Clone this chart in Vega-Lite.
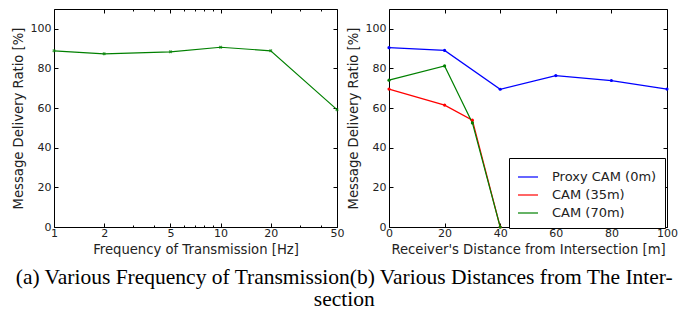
{
  "$schema": "https://vega.github.io/schema/vega-lite/v6.json",
  "background": "white",
  "padding": {"left": 10, "top": 8, "right": 6, "bottom": 0},
  "title": {
    "text": ["(a) Various Frequency of Transmission(b) Various Distances from The Inter-", "section"],
    "orient": "bottom",
    "anchor": "middle",
    "font": "Liberation Serif",
    "fontSize": 21.5,
    "fontWeight": "normal",
    "color": "black",
    "offset": 11,
    "lineHeight": 22
  },
  "datasets": {
    "freq": [
      {"f": 1, "ratio": 88.9},
      {"f": 2, "ratio": 87.4},
      {"f": 5, "ratio": 88.4},
      {"f": 10, "ratio": 90.7},
      {"f": 20, "ratio": 88.9},
      {"f": 50, "ratio": 59.2}
    ],
    "dist": [
      {"d": 0, "ratio": 90.5, "series": "Proxy CAM (0m)"},
      {"d": 20, "ratio": 89.1, "series": "Proxy CAM (0m)"},
      {"d": 40, "ratio": 69.5, "series": "Proxy CAM (0m)"},
      {"d": 60, "ratio": 76.4, "series": "Proxy CAM (0m)"},
      {"d": 80, "ratio": 73.9, "series": "Proxy CAM (0m)"},
      {"d": 100, "ratio": 69.6, "series": "Proxy CAM (0m)"},
      {"d": 0, "ratio": 69.6, "series": "CAM (35m)"},
      {"d": 20, "ratio": 61.5, "series": "CAM (35m)"},
      {"d": 30, "ratio": 53.9, "series": "CAM (35m)"},
      {"d": 40, "ratio": 0, "series": "CAM (35m)"},
      {"d": 0, "ratio": 74.1, "series": "CAM (70m)"},
      {"d": 20, "ratio": 81.3, "series": "CAM (70m)"},
      {"d": 30, "ratio": 52.5, "series": "CAM (70m)"},
      {"d": 40, "ratio": 0, "series": "CAM (70m)"}
    ]
  },
  "config": {
    "font": "DejaVu Sans",
    "view": {"stroke": "black", "strokeWidth": 1},
    "axis": {
      "grid": false,
      "domain": false,
      "tickColor": "black",
      "tickSize": -4,
      "labelPadding": 6,
      "labelFont": "DejaVu Sans",
      "labelFontSize": 11,
      "labelColor": "#222",
      "titleFont": "DejaVu Sans",
      "titleFontSize": 13.2,
      "titleFontWeight": "normal",
      "titleColor": "#222"
    },
    "axisX": {"labelPadding": 4, "titlePadding": 5},
    "axisY": {"labelPadding": 7, "titlePadding": 5},
    "legend": {
      "strokeColor": "black",
      "fillColor": "white",
      "padding": 8,
      "labelFont": "DejaVu Sans",
      "labelFontSize": 13,
      "labelColor": "#222",
      "symbolType": "stroke",
      "symbolSize": 400,
      "symbolStrokeWidth": 1.2,
      "rowPadding": -1,
      "labelOffset": 13
    }
  },
  "spacing": 0,
  "hconcat": [
    {
      "width": 283,
      "height": 218,
      "data": {"name": "freq"},
      "layer": [
        {
          "mark": {"type": "line", "color": "#008000", "strokeWidth": 1.2},
          "encoding": {
            "x": {"field": "f", "type": "quantitative", "scale": {"type": "log", "domain": [1, 50], "nice": false},
                  "axis": {"values": [1, 2, 5, 10, 20, 50], "title": "Frequency of Transmission [Hz]", "labelFlush": false, "format": "d"}},
            "y": {"field": "ratio", "type": "quantitative", "scale": {"domain": [0, 110], "nice": false},
                  "axis": {"values": [0, 20, 40, 60, 80, 100], "title": "Message Delivery Ratio [%]"}}
          }
        },
        {
          "mark": {"type": "point", "shape": "cross", "color": "#008000", "size": 12, "filled": true, "angle": 45},
          "encoding": {
            "x": {"field": "f", "type": "quantitative", "axis": {"orient": "top", "values": [1, 2, 5, 10, 20, 50], "labels": false, "title": null}},
            "y": {"field": "ratio", "type": "quantitative", "axis": {"orient": "right", "values": [0, 20, 40, 60, 80, 100], "labels": false, "title": null}}
          }
        },
        {
          "mark": {"type": "point", "opacity": 0},
          "encoding": {
            "x": {"field": "f", "type": "quantitative", "axis": {"orient": "bottom", "values": [3, 4, 6, 7, 8, 9, 30, 40], "labels": false, "title": null, "tickSize": -2}}
          }
        },
        {
          "mark": {"type": "point", "opacity": 0},
          "encoding": {
            "x": {"field": "f", "type": "quantitative", "axis": {"orient": "top", "values": [3, 4, 6, 7, 8, 9, 30, 40], "labels": false, "title": null, "tickSize": -2}}
          }
        }
      ],
      "resolve": {"axis": {"x": "independent", "y": "independent"}}
    },
    {
      "width": 278,
      "height": 218,
      "data": {"name": "dist"},
      "layer": [
        {
          "mark": {"type": "line", "strokeWidth": 1.2},
          "encoding": {
            "x": {"field": "d", "type": "quantitative", "scale": {"domain": [0, 100], "nice": false},
                  "axis": {"values": [0, 20, 40, 60, 80, 100], "title": "Receiver's Distance from Intersection [m]", "labelFlush": false}},
            "y": {"field": "ratio", "type": "quantitative", "scale": {"domain": [0, 110], "nice": false},
                  "axis": {"values": [0, 20, 40, 60, 80, 100], "title": "Message Delivery Ratio [%]"}},
            "color": {"field": "series", "type": "nominal",
                      "scale": {"domain": ["Proxy CAM (0m)", "CAM (35m)", "CAM (70m)"], "range": ["#0000ff", "#ff0000", "#008000"]},
                      "legend": {"title": null, "orient": "none", "legendX": 455, "legendY": 149}}
          }
        },
        {
          "mark": {"type": "point", "filled": true, "size": 10, "opacity": 1},
          "encoding": {
            "x": {"field": "d", "type": "quantitative", "axis": {"orient": "top", "values": [0, 20, 40, 60, 80, 100], "labels": false, "title": null}},
            "y": {"field": "ratio", "type": "quantitative", "axis": {"orient": "right", "values": [0, 20, 40, 60, 80, 100], "labels": false, "title": null}},
            "color": {"field": "series", "type": "nominal", "legend": null}
          }
        }
      ],
      "resolve": {"axis": {"x": "independent", "y": "independent"}}
    }
  ]
}
